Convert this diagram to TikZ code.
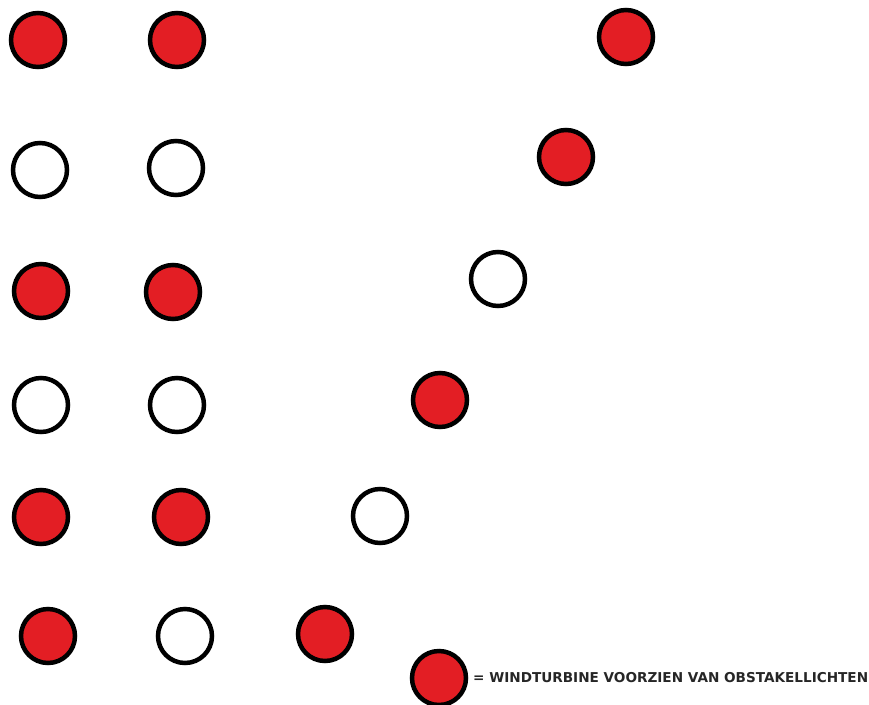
\documentclass[tikz,border=0pt]{standalone}
\usepackage{fontspec}
\newfontfamily\legendfont{DejaVu Sans}
\definecolor{lampred}{HTML}{E31E24}
\begin{document}
\begin{tikzpicture}[x=1pt,y=-1pt,
  turbine/.style={circle,draw=black,line width=4.5pt,minimum size=54pt,inner sep=0pt},
  lit/.style={turbine,fill=lampred},
  unlit/.style={turbine,fill=white}]
\useasboundingbox (0,0) rectangle (869,704);
% row 1
\node[lit]   (a1) at (38,40) {};
\node[lit]   (b1) at (177,40) {};
\node[lit]   (c1) at (626,37) {};
% row 2
\node[unlit] (a2) at (40,170) {};
\node[unlit] (b2) at (176,168) {};
\node[lit]   (c2) at (566,157) {};
% row 3
\node[lit]   (a3) at (41,291) {};
\node[lit]   (b3) at (173,292) {};
\node[unlit] (c3) at (498,279) {};
% row 4
\node[unlit] (a4) at (41,405) {};
\node[unlit] (b4) at (177,405) {};
\node[lit]   (c4) at (440,400) {};
% row 5
\node[lit]   (a5) at (41,517) {};
\node[lit]   (b5) at (181,517) {};
\node[unlit] (c5) at (380,516) {};
% row 6
\node[lit]   (a6) at (48,636) {};
\node[unlit] (b6) at (185,636) {};
\node[lit]   (c6) at (325,634) {};
% legend
\node[lit]   (leg) at (439,678) {};
\node[anchor=west,inner sep=0pt,font=\legendfont\bfseries\fontsize{13.6}{14}\selectfont,text=black!85] (legtext) at (473,678) {= WINDTURBINE VOORZIEN VAN OBSTAKELLICHTEN};
\end{tikzpicture}
\end{document}
